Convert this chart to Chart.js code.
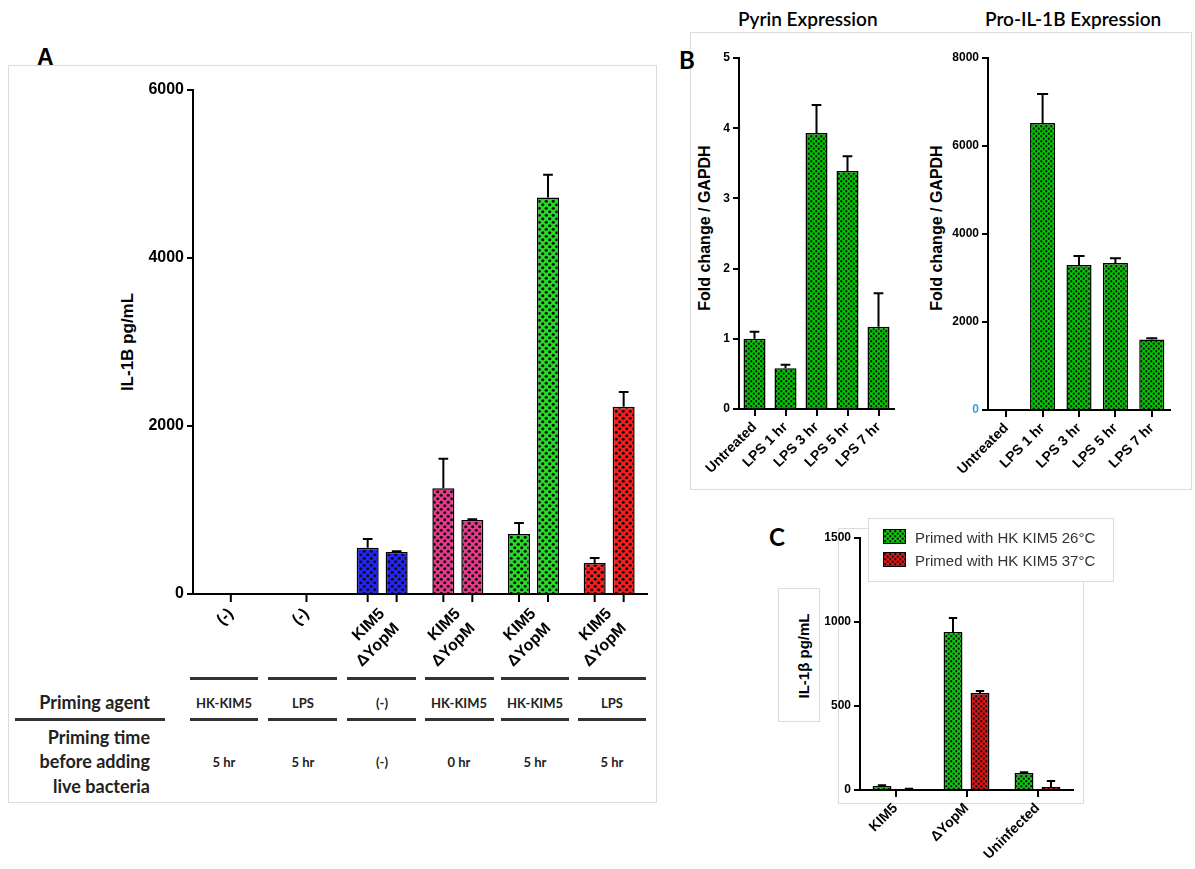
<!DOCTYPE html>
<html>
<head>
<meta charset="utf-8">
<script src="https://cdn.jsdelivr.net/npm/chart.js@4.4.1/dist/chart.umd.min.js"></script>
<style>
  body { margin: 0; background: #fff; width: 1195px; height: 869px; position: relative; overflow: hidden;
         font-family: "Liberation Sans", Arial, sans-serif; color: #000; }
  .box { position: absolute; border: 1px solid #dcdcdc; }
  .wrap { position: absolute; }
  .cal { position: absolute; font-family: Lato, "Open Sans", sans-serif; white-space: nowrap; }
  .rule { position: absolute; height: 3px; background: #333; }
  .ytitle { position: absolute; transform: translate(-50%, -50%) rotate(-90deg); white-space: nowrap; font-weight: bold; }
  .cell { position: absolute; transform: translate(-50%, -50%); font-family: Lato, sans-serif; font-weight: bold;
          font-size: 13px; color: #222; white-space: nowrap; }
  .swatch { position: absolute; width: 21px; height: 13px; border: 1.5px solid #000; }
  .leg { position: absolute; font-size: 15px; color: #333; white-space: nowrap; transform: translateY(-50%); }
</style>
</head>
<body>

<!-- panel frames -->
<div class="box" style="left:8px;top:65px;width:647px;height:736px"></div>
<div class="box" style="left:690px;top:32px;width:500px;height:456px"></div>
<div class="box" style="left:838px;top:528px;width:244px;height:274px"></div>
<div class="box" style="left:868px;top:518px;width:244px;height:62px;background:#fff"></div>
<div class="box" style="left:778px;top:588px;width:40px;height:132px;background:#fff"></div>

<div class="cal" style="left:37px;top:44px;font-size:23px;font-weight:bold;font-family:'Liberation Sans',Arial">A</div>
<div class="cal" style="left:679px;top:45px;font-size:24px;font-weight:bold">B</div>
<div class="cal" style="left:769px;top:522px;font-size:24px;font-weight:bold">C</div>

<div class="cal" style="left:738px;top:7px;font-size:19px;font-weight:600">Pyrin Expression</div>
<div class="cal" style="left:985px;top:7px;font-size:19px;font-weight:600">Pro-IL-1B Expression</div>

<div class="ytitle" style="left:128px;top:342px;font-size:17px">IL-1B pg/mL</div>
<div class="ytitle" style="left:705px;top:228px;font-size:16px">Fold change / GAPDH</div>
<div class="ytitle" style="left:937px;top:228px;font-size:16px">Fold change / GAPDH</div>
<div class="ytitle" style="left:803px;top:656px;font-size:15px">IL-1β pg/mL</div>

<div class="wrap" style="left:100px;top:70px"><canvas id="chartA" width="570" height="600"></canvas></div>
<div class="wrap" style="left:700px;top:40px"><canvas id="chartPyrin" width="205" height="450"></canvas></div>
<div class="wrap" style="left:945px;top:40px"><canvas id="chartPro" width="235" height="450"></canvas></div>
<div class="wrap" style="left:815px;top:520px"><canvas id="chartC" width="270" height="349"></canvas></div>

<!-- legend of panel C -->
<div class="swatch" id="swGreen" style="left:883px;top:529px"></div>
<div class="swatch" id="swRed" style="left:883px;top:552px"></div>
<div class="leg" style="left:915px;top:537px">Primed with HK KIM5 26°C</div>
<div class="leg" style="left:915px;top:560px">Primed with HK KIM5 37°C</div>

<!-- table under panel A -->
<div id="table"></div>

<script>
// ---- Panel A: IL-1B release ----
const groupsA = [['(-)'], ['(-)'], ['KIM5', 'ΔYopM'], ['KIM5', 'ΔYopM'], ['KIM5', 'ΔYopM'], ['KIM5', 'ΔYopM']];
const kim5A = [null, null, 550, 1260, 715, 370];
const kim5ErrA = [null, null, 655, 1610, 845, 430];
const yopmA = [null, null, 500, 880, 4720, 2230];
const yopmErrA = [null, null, 510, 890, 4990, 2405];
const groupColorsA = ['#2424ff', '#2424ff', '#2424ff', '#ea3a8c', '#26dc26', '#ff1c1c'];

const primingAgent = ['HK-KIM5', 'LPS', '(-)', 'HK-KIM5', 'HK-KIM5', 'LPS'];
const primingTime = ['5 hr', '5 hr', '(-)', '0 hr', '5 hr', '5 hr'];

// ---- Panel B ----
const timesB = ['Untreated', 'LPS 1 hr', 'LPS 3 hr', 'LPS 5 hr', 'LPS 7 hr'];
const pyrin = [1.0, 0.58, 3.93, 3.39, 1.17];
const pyrinErr = [1.10, 0.63, 4.33, 3.60, 1.65];
const proIL = [0, 6520, 3295, 3340, 1600];
const proILErr = [null, 7180, 3500, 3450, 1630];

// ---- Panel C ----
const strainsC = ['KIM5', 'ΔYopM', 'Uninfected'];
const primed26 = [24, 940, 101];
const primed26Err = [28, 1024, 106];
const primed37 = [6, 577, 18];
const primed37Err = [8, 590, 54];

Chart.defaults.font.family = '"Liberation Sans", Arial, sans-serif';
Chart.defaults.color = '#000';
Chart.defaults.animation = false;

// checkered fill like the GraphPad pattern
function checkerTile(color, size) {
  const c = document.createElement('canvas');
  c.width = c.height = size;
  const g = c.getContext('2d');
  g.fillStyle = color;
  g.fillRect(0, 0, size, size);
  g.fillStyle = '#101010';
  const r = size * 0.23;
  [[size / 4, size / 4], [size * 3 / 4, size * 3 / 4]].forEach(([x, y]) => {
    g.beginPath(); g.arc(x, y, r, 0, Math.PI * 2); g.fill();
  });
  return c;
}
function checker(ctx, color, size) {
  return ctx.createPattern(checkerTile(color, size), 'repeat');
}

const errorBars = {
  id: 'errorBars',
  afterDatasetsDraw(chart) {
    const { ctx } = chart;
    const y = chart.scales.y;
    chart.data.datasets.forEach((ds, di) => {
      if (!ds.errors) return;
      chart.getDatasetMeta(di).data.forEach((bar, i) => {
        const e = ds.errors[i];
        if (e == null || ds.data[i] == null) return;
        const top = y.getPixelForValue(e);
        const half = bar.width * 0.22;
        ctx.save();
        ctx.strokeStyle = '#000';
        ctx.lineWidth = 2;
        ctx.beginPath();
        ctx.moveTo(bar.x, bar.y);
        ctx.lineTo(bar.x, top);
        ctx.moveTo(bar.x - half, top);
        ctx.lineTo(bar.x + half, top);
        ctx.stroke();
        ctx.restore();
      });
    });
  }
};

// tick marks under each bar (panel A)
const barTicks = {
  id: 'barTicks',
  afterDraw(chart) {
    const { ctx, chartArea } = chart;
    ctx.save();
    ctx.strokeStyle = '#000';
    ctx.lineWidth = 2;
    chart.data.labels.forEach((_, i) => {
      const xs = [];
      chart.data.datasets.forEach((ds, di) => {
        if (ds.data[i] != null) xs.push(chart.getDatasetMeta(di).data[i].x);
      });
      if (!xs.length) xs.push(chart.scales.x.getPixelForValue(i));
      xs.forEach(x => {
        ctx.beginPath();
        ctx.moveTo(x, chartArea.bottom);
        ctx.lineTo(x, chartArea.bottom + 8);
        ctx.stroke();
      });
    });
    ctx.restore();
  }
};

function yAxis(max, step, width, size) {
  return {
    min: 0, max: max,
    afterFit: s => { s.width = width; },
    border: { color: '#000', width: 2 },
    grid: { drawOnChartArea: false, color: '#000', lineWidth: 2, tickLength: 6 },
    ticks: { stepSize: step, padding: 3, font: { size: size, weight: 'bold' }, callback: v => String(v) }
  };
}
function xAxis(height, size, showTicks, lineHeight) {
  return {
    afterFit: s => { s.height = height; },
    border: { color: '#000', width: 2 },
    grid: { drawOnChartArea: false, offset: false, color: showTicks ? '#000' : 'rgba(0,0,0,0)', lineWidth: 2, tickLength: 7 },
    ticks: { autoSkip: false, minRotation: 45, maxRotation: 45, padding: 3,
             font: { size: size, weight: 'bold', lineHeight: lineHeight || 1.2 } }
  };
}
const baseOpts = (pad) => ({
  responsive: false,
  layout: { padding: pad },
  plugins: { legend: { display: false }, tooltip: { enabled: false } }
});

// ---- build panel A ----
const ctxA = document.getElementById('chartA').getContext('2d');
const fillsA = groupColorsA.map(c => checker(ctxA, c, 7));
new Chart(ctxA, {
  type: 'bar',
  data: {
    labels: groupsA,
    datasets: [
      { data: kim5A, errors: kim5ErrA, backgroundColor: fillsA, borderColor: '#000', borderWidth: 1.5 },
      { data: yopmA, errors: yopmErrA, backgroundColor: fillsA, borderColor: '#000', borderWidth: 1.5 }
    ]
  },
  options: Object.assign(baseOpts({ top: 20, right: 23, left: 0, bottom: 0 }), {
    datasets: { bar: { categoryPercentage: 0.766, barPercentage: 0.76 } },
    scales: {
      x: xAxis(76, 16, false, 1.3),
      y: yAxis(6000, 2000, 93, 16)
    }
  }),
  plugins: [errorBars, barTicks]
});

// ---- build panel B ----
const ctxP = document.getElementById('chartPyrin').getContext('2d');
new Chart(ctxP, {
  type: 'bar',
  data: {
    labels: timesB,
    datasets: [{ data: pyrin, errors: pyrinErr, backgroundColor: checker(ctxP, '#00c800', 5), borderColor: '#000', borderWidth: 1.5 }]
  },
  options: Object.assign(baseOpts({ top: 18, right: 11, left: 0, bottom: 0 }), {
    datasets: { bar: { categoryPercentage: 1, barPercentage: 0.71 } },
    scales: {
      x: xAxis(81, 14, true),
      y: yAxis(5, 1, 39, 12)
    }
  }),
  plugins: [errorBars]
});

const ctxR = document.getElementById('chartPro').getContext('2d');
const proY = yAxis(8000, 2000, 43, 12);
proY.ticks.color = c => (c.tick && c.tick.value === 0 ? '#3f9fd0' : '#000');
new Chart(ctxR, {
  type: 'bar',
  data: {
    labels: timesB,
    datasets: [{ data: proIL, errors: proILErr, backgroundColor: checker(ctxR, '#00c800', 5), borderColor: '#000', borderWidth: 1.5 }]
  },
  options: Object.assign(baseOpts({ top: 18, right: 10, left: 0, bottom: 0 }), {
    datasets: { bar: { categoryPercentage: 1, barPercentage: 0.69 } },
    scales: {
      x: xAxis(80, 14, true),
      y: proY
    }
  }),
  plugins: [errorBars]
});

// ---- build panel C ----
const ctxC = document.getElementById('chartC').getContext('2d');
new Chart(ctxC, {
  type: 'bar',
  data: {
    labels: strainsC,
    datasets: [
      { label: 'Primed with HK KIM5 26°C', data: primed26, errors: primed26Err, backgroundColor: checker(ctxC, '#10c810', 5), borderColor: '#000', borderWidth: 1.5 },
      { label: 'Primed with HK KIM5 37°C', data: primed37, errors: primed37Err, backgroundColor: checker(ctxC, '#e01414', 5), borderColor: '#000', borderWidth: 1.5 }
    ]
  },
  options: Object.assign(baseOpts({ top: 18, right: 12, left: 0, bottom: 0 }), {
    datasets: { bar: { categoryPercentage: 0.76, barPercentage: 0.7 } },
    scales: {
      x: xAxis(79, 14, true),
      y: yAxis(1500, 500, 45, 12)
    }
  }),
  plugins: [errorBars]
});

document.getElementById('swGreen').style.background = 'url(' + checkerTile('#10c810', 5).toDataURL() + ')';
document.getElementById('swRed').style.background = 'url(' + checkerTile('#e01414', 5).toDataURL() + ')';

// ---- table under panel A ----
const table = document.getElementById('table');
const colCenters = [224, 303, 382, 459, 535, 612];
const colSpans = [[190, 258], [268, 337], [347, 416], [425, 494], [501, 569], [578, 646]];
let html = '';
colSpans.forEach(([a, b]) => {
  html += `<div class="rule" style="left:${a}px;top:677px;width:${b - a}px"></div>`;
  html += `<div class="rule" style="left:${a}px;top:718px;width:${b - a}px"></div>`;
});
html += '<div class="rule" style="left:15px;top:718px;width:150px"></div>';
primingAgent.forEach((t, i) => { html += `<div class="cell" style="left:${colCenters[i]}px;top:703px">${t}</div>`; });
primingTime.forEach((t, i) => { html += `<div class="cell" style="left:${colCenters[i]}px;top:762px">${t}</div>`; });
const rowHead = [['Priming agent', 703], ['Priming time', 738], ['before adding', 762], ['live bacteria', 787]];
rowHead.forEach(([t, y]) => {
  html += `<div class="cal" style="right:${1195 - 150}px;top:${y - 12}px;font-size:18px;font-weight:bold;color:#222">${t}</div>`;
});
table.innerHTML = html;
</script>
</body>
</html>
